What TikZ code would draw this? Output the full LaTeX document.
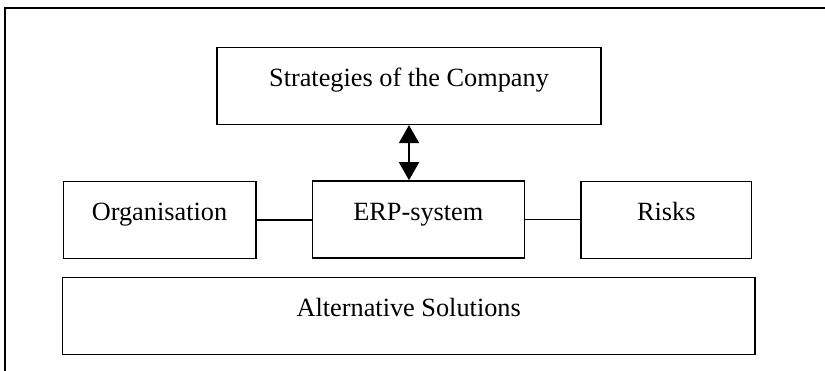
\documentclass[tikz,border=0pt]{standalone}
\usepackage{fontspec}
\setmainfont{Liberation Serif}
\usetikzlibrary{arrows.meta, positioning, calc}

\begin{document}
\begin{tikzpicture}[
    x=1pt, y=-1pt,
    block/.style={
        rectangle,
        draw,
        line width=1.6pt,
        inner sep=0pt,
        text height=39pt,
        text depth=38pt,
        font=\fontsize{26.3}{31}\selectfont,
    },
    link/.style={
        line width=1.6pt,
    }
]
\useasboundingbox (0,0) rectangle (825,370);
\draw[line width=1.6pt] (5,372) -- (5,8) -- (827,8);

\node[block, minimum width=384pt] (strategies) at (409,85.8) {Strategies of the Company};
\node[block, minimum width=192.4pt] (organisation) at (159.5,220) {Organisation};
\node[block, minimum width=212pt] (erp) at (418.3,219.5) {ERP-system};
\node[block, minimum width=170.7pt] (risks) at (666.3,220) {Risks};
\node[block, minimum width=692.7pt] (alternatives) at (408.7,316) {Alternative Solutions};

\draw[link, {Triangle[width=20pt,length=18pt]}-{Triangle[width=20pt,length=18pt]}]
    (strategies.south) -- (strategies.south |- erp.north);
\draw[link] (organisation.east) -- (organisation.east -| erp.west);
\draw[link] (erp.east) -- (erp.east -| risks.west);
\end{tikzpicture}
\end{document}
